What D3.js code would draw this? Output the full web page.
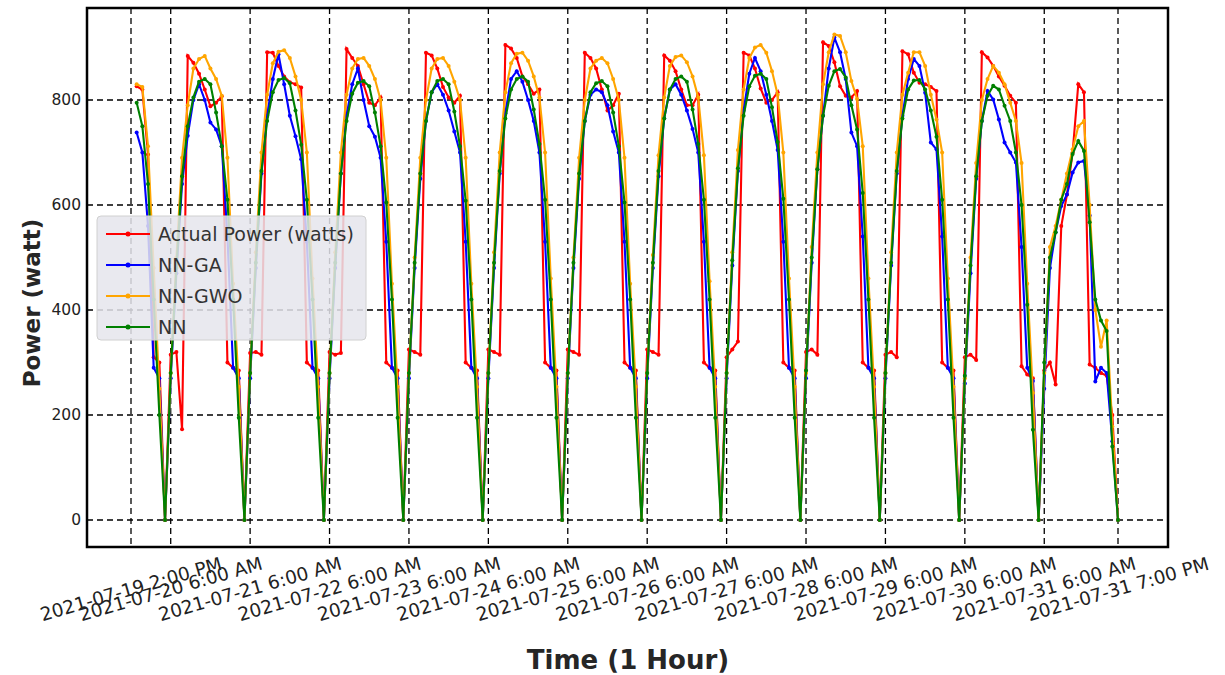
<!DOCTYPE html>
<html>
<head>
<meta charset="utf-8">
<script src="https://cdn.jsdelivr.net/npm/d3@7"></script>
<style>
  html, body { margin: 0; padding: 0; background: #fff; }
  svg { display: block; }
</style>
</head>
<body>
<svg id="chart" width="1225" height="675"></svg>
<script>
// Hourly slots: 2021-07-19 afternoon, then 6 AM .. 7 PM for 20–31 July.
// The first slot has no reading (null).
const days = ["2021-07-20","2021-07-21","2021-07-22","2021-07-23","2021-07-24","2021-07-25",
              "2021-07-26","2021-07-27","2021-07-28","2021-07-29","2021-07-30","2021-07-31"];
const firstDayHours = [14, 15, 16, 17, 18, 19, 20];
const dayHours = [6, 7, 8, 9, 10, 11, 12, 13, 14, 15, 16, 17, 18, 19];

const actual = [
  null, 826, 820, 696, 310, 300, 0,
  315, 320, 173, 884, 871, 850, 820, 788, 795, 807, 300, 290, 285, 0,
  318, 320, 315, 891, 890, 865, 845, 834, 830, 824, 300, 290, 285, 0,
  320, 315, 318, 897, 880, 865, 830, 795, 790, 805, 300, 290, 285, 0,
  325, 320, 315, 890, 885, 860, 825, 805, 795, 808, 300, 290, 285, 0,
  325, 320, 315, 905, 898, 880, 845, 830, 812, 820, 300, 290, 285, 0,
  325, 320, 315, 890, 880, 860, 820, 780, 790, 812, 300, 290, 285, 0,
  325, 320, 315, 885, 875, 855, 820, 790, 790, 810, 300, 290, 285, 0,
  310, 325, 340, 890, 885, 860, 822, 795, 800, 815, 300, 290, 285, 0,
  320, 325, 315, 910, 903, 872, 826, 808, 805, 817, 300, 290, 285, 0,
  315, 320, 310, 893, 887, 852, 833, 830, 825, 817, 300, 290, 285, 0,
  310, 315, 305, 891, 881, 865, 845, 827, 808, 795, 293, 277, 270, 0,
  285, 300, 258, 560, 620, 700, 830, 815, 296, 290, 280, 275, 200, 0
];
const nnGA = [
  null, 738, 700, 560, 290, 270, 0,
  270, 470, 640, 732, 800, 830, 800, 757, 744, 712, 540, 290, 270, 0,
  270, 480, 660, 770, 840, 887, 830, 770, 731, 687, 530, 290, 270, 0,
  270, 480, 660, 770, 830, 860, 800, 750, 730, 690, 530, 290, 270, 0,
  270, 480, 650, 760, 815, 830, 810, 780, 740, 700, 530, 290, 270, 0,
  270, 480, 660, 775, 840, 855, 835, 800, 760, 700, 530, 290, 270, 0,
  270, 480, 650, 760, 810, 820, 815, 790, 740, 700, 530, 290, 270, 0,
  270, 480, 655, 765, 820, 830, 810, 780, 745, 700, 530, 290, 270, 0,
  270, 485, 665, 780, 850, 880, 855, 810, 760, 705, 530, 290, 270, 0,
  270, 490, 668, 770, 860, 919, 891, 840, 738, 712, 540, 290, 270, 0,
  270, 485, 660, 770, 840, 878, 865, 814, 719, 706, 540, 290, 270, 0,
  260, 470, 650, 760, 817, 801, 763, 719, 700, 681, 520, 290, 265, 0,
  250, 480, 548, 598, 620, 662, 681, 684, 580, 264, 290, 280, 150, 0
];
const nnGWO = [
  null, 830, 825, 712, 480, 250, 0,
  280, 500, 690, 790, 860, 878, 884, 860, 840, 808, 690, 450, 254, 0,
  280, 510, 700, 810, 870, 892, 895, 880, 845, 800, 700, 460, 254, 0,
  280, 510, 700, 810, 860, 878, 880, 865, 840, 800, 690, 450, 254, 0,
  280, 500, 690, 800, 860, 878, 880, 865, 835, 800, 690, 450, 254, 0,
  280, 510, 700, 815, 870, 888, 890, 875, 845, 805, 700, 460, 254, 0,
  280, 500, 690, 800, 860, 875, 880, 870, 840, 800, 690, 450, 254, 0,
  280, 505, 695, 805, 865, 882, 885, 872, 845, 805, 695, 455, 254, 0,
  280, 510, 705, 820, 880, 900, 905, 890, 855, 810, 700, 460, 254, 0,
  280, 520, 700, 830, 891, 925, 922, 891, 836, 802, 712, 460, 254, 0,
  280, 510, 700, 810, 852, 891, 891, 865, 810, 763, 700, 460, 254, 0,
  270, 500, 680, 800, 840, 865, 852, 830, 795, 760, 680, 450, 242, 0,
  280, 520, 560, 610, 660, 706, 750, 760, 600, 400, 330, 380, 178, 0
];
const nn = [
  null, 795, 750, 640, 420, 200, 0,
  280, 480, 655, 750, 805, 835, 840, 830, 776, 712, 610, 420, 195, 0,
  280, 490, 665, 760, 815, 838, 842, 832, 780, 715, 610, 420, 195, 0,
  280, 490, 660, 760, 812, 833, 836, 826, 776, 712, 605, 420, 195, 0,
  280, 490, 660, 760, 815, 836, 840, 830, 778, 712, 608, 420, 195, 0,
  280, 490, 665, 765, 820, 840, 845, 835, 782, 716, 610, 420, 195, 0,
  280, 490, 660, 760, 815, 832, 836, 826, 776, 712, 605, 420, 195, 0,
  280, 490, 665, 765, 820, 840, 845, 835, 782, 716, 610, 420, 195, 0,
  280, 495, 670, 770, 826, 846, 850, 840, 786, 720, 612, 420, 195, 0,
  285, 500, 668, 770, 827, 855, 859, 843, 790, 744, 623, 420, 195, 0,
  280, 490, 665, 765, 820, 837, 838, 820, 780, 730, 610, 420, 195, 0,
  275, 485, 655, 760, 808, 827, 820, 789, 760, 700, 600, 410, 172, 0,
  300, 500, 548, 610, 640, 697, 722, 703, 567, 420, 380, 360, 140, 0
];

const tickIndex = [0, 7, 21, 35, 49, 63, 77, 91, 105, 119, 133, 147, 161, 174];
const tickLabels = ["2021-07-19 2:00 PM", "2021-07-20 6:00 AM", "2021-07-21 6:00 AM",
  "2021-07-22 6:00 AM", "2021-07-23 6:00 AM", "2021-07-24 6:00 AM", "2021-07-25 6:00 AM",
  "2021-07-26 6:00 AM", "2021-07-27 6:00 AM", "2021-07-28 6:00 AM", "2021-07-29 6:00 AM",
  "2021-07-30 6:00 AM", "2021-07-31 6:00 AM", "2021-07-31 7:00 PM"];
const yTicks = [0, 200, 400, 600, 800];

// One slot label per reading
function fmtHour(h) {
  const ap = h < 12 ? "AM" : "PM";
  const h12 = h % 12 === 0 ? 12 : h % 12;
  return `${h12}:00 ${ap}`;
}
const categories = [];
firstDayHours.forEach(h => categories.push(`2021-07-19 ${fmtHour(h)}`));
days.forEach(d => dayHours.forEach(h => categories.push(`${d} ${fmtHour(h)}`)));

const series = [
  { name: "Actual Power (watts)", values: actual, color: "#ff0000" },
  { name: "NN-GA", values: nnGA, color: "#0000ff" },
  { name: "NN-GWO", values: nnGWO, color: "#ffa500" },
  { name: "NN", values: nn, color: "#008000" }
];

const svg = d3.select("#chart");
const frame = { left: 87, right: 1168, top: 8, bottom: 547 };

const x = d3.scaleLinear().domain([0, categories.length - 1]).range([131, 1118]);
const y = d3.scaleLinear().domain([0, 800]).range([520, 100]);

// Grid
const grid = svg.append("g");
grid.selectAll("line.gy").data(yTicks).join("line")
  .attr("x1", frame.left).attr("x2", frame.right)
  .attr("y1", d => y(d)).attr("y2", d => y(d))
  .attr("stroke", "#000").attr("stroke-width", 1.3).attr("stroke-dasharray", "6,4");
grid.selectAll("line.gx").data(tickIndex).join("line")
  .attr("x1", d => x(d)).attr("x2", d => x(d))
  .attr("y1", frame.top).attr("y2", frame.bottom)
  .attr("stroke", "#000").attr("stroke-width", 1.3).attr("stroke-dasharray", "6,4");

// Series lines with markers
const line = d3.line().defined(d => d !== null).x((d, i) => x(i)).y(d => y(d));
series.forEach(s => {
  const g = svg.append("g");
  g.append("path").datum(s.values).attr("d", line)
    .attr("fill", "none").attr("stroke", s.color).attr("stroke-width", 2.1);
  const pts = s.values.map((v, i) => ({ v, i })).filter(p => p.v !== null);
  g.selectAll("circle").data(pts).join("circle")
    .attr("cx", p => x(p.i)).attr("cy", p => y(p.v)).attr("r", 2)
    .attr("fill", s.color);
});

// Frame
svg.append("rect")
  .attr("x", frame.left).attr("y", frame.top)
  .attr("width", frame.right - frame.left).attr("height", frame.bottom - frame.top)
  .attr("fill", "none").attr("stroke", "#000").attr("stroke-width", 2.5);

// Y tick labels
svg.append("g").selectAll("text").data(yTicks).join("text")
  .attr("x", 81).attr("y", d => y(d)).attr("dy", "0.35em")
  .attr("text-anchor", "end")
  .attr("font-family", "DejaVu Sans").attr("font-size", 15.5).attr("fill", "#222")
  .text(d => d);

// X tick labels, rotated
svg.append("g").selectAll("text").data(tickIndex).join("text")
  .attr("transform", d => `translate(${x(d)},589) rotate(-16)`)
  .attr("text-anchor", "middle").attr("dy", "0.35em")
  .attr("font-family", "DejaVu Sans").attr("font-size", 18.5).attr("fill", "#222")
  .text((d, i) => tickLabels[i]);

// Axis titles
svg.append("text")
  .attr("transform", "translate(40,303) rotate(-90)")
  .attr("text-anchor", "middle")
  .attr("font-family", "DejaVu Sans").attr("font-weight", "bold").attr("font-size", 23)
  .attr("fill", "#262626").text("Power (watt)");
svg.append("text")
  .attr("x", 628).attr("y", 669).attr("text-anchor", "middle")
  .attr("font-family", "DejaVu Sans").attr("font-weight", "bold").attr("font-size", 26)
  .attr("fill", "#262626").text("Time (1 Hour)");

// Legend
const lg = svg.append("g");
lg.append("rect").attr("x", 97).attr("y", 216).attr("width", 269).attr("height", 124)
  .attr("rx", 4).attr("fill", "#e5e5ec").attr("fill-opacity", 0.85)
  .attr("stroke", "#d0d0d0");
series.forEach((s, i) => {
  const yy = 234 + i * 31;
  lg.append("line").attr("x1", 106).attr("x2", 150).attr("y1", yy).attr("y2", yy)
    .attr("stroke", s.color).attr("stroke-width", 2);
  lg.append("circle").attr("cx", 128).attr("cy", yy).attr("r", 2.5).attr("fill", s.color);
  lg.append("text").attr("x", 158).attr("y", yy).attr("dy", "0.35em")
    .attr("font-family", "DejaVu Sans").attr("font-size", 19).attr("fill", "#333")
    .text(s.name);
});
</script>
</body>
</html>
